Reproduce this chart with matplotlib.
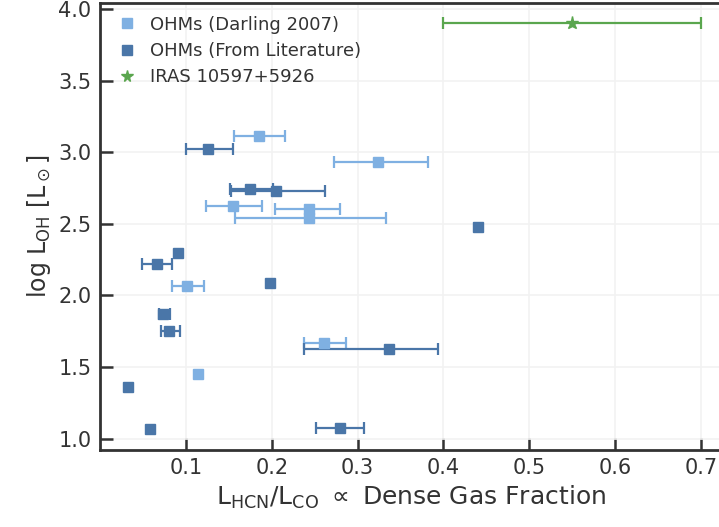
import matplotlib
matplotlib.use('Agg')
from matplotlib import pyplot as plt

# OHMs (Darling 2007)
darling_x = [0.185, 0.324, 0.155, 0.243, 0.244, 0.101, 0.261, 0.114]
darling_xlo = [0.156, 0.272, 0.123, 0.204, 0.157, 0.084, 0.238, 0.114]
darling_xhi = [0.216, 0.382, 0.189, 0.280, 0.333, 0.121, 0.287, 0.114]
darling_y = [3.114, 2.932, 2.625, 2.604, 2.542, 2.067, 1.669, 1.453]

# OHMs (From Literature)
lit_x = [0.126, 0.175, 0.205, 0.091, 0.066, 0.198, 0.440, 0.073, 0.080, 0.336, 0.033, 0.058, 0.279]
lit_xlo = [0.100, 0.151, 0.153, 0.091, 0.049, 0.198, 0.440, 0.069, 0.071, 0.238, 0.033, 0.058, 0.251]
lit_xhi = [0.155, 0.201, 0.262, 0.091, 0.084, 0.198, 0.440, 0.082, 0.093, 0.394, 0.033, 0.058, 0.308]
lit_y = [3.023, 2.744, 2.730, 2.297, 2.220, 2.088, 2.479, 1.872, 1.753, 1.627, 1.362, 1.069, 1.076]

# IRAS 10597+5926
iras_x = [0.55]
iras_xlo = [0.40]
iras_xhi = [0.70]
iras_y = [3.90]

light = '#7fb0e2'
dark = '#4a76a8'
green = '#5aa64e'
ink = '#333333'

plt.rcParams['font.family'] = 'DejaVu Sans'
plt.rcParams['text.color'] = ink
plt.rcParams['axes.labelcolor'] = ink
plt.rcParams['xtick.color'] = ink
plt.rcParams['ytick.color'] = ink

fig = plt.figure(figsize=(7.19, 5.27), dpi=100)
ax = fig.add_axes([0.139, 0.146, 0.866, 0.848])


def draw(x, lo, hi, y, color, label, marker='s', ms=7.5):
    # points with an x range get error bars, the rest are plain markers
    ex, ey, elo, ehi, px, py = [], [], [], [], [], []
    for v, l, h, w in zip(x, lo, hi, y):
        if h > l:
            ex.append(v); ey.append(w); elo.append(v - l); ehi.append(h - v)
        else:
            px.append(v); py.append(w)
    ax.errorbar(ex, ey, xerr=[elo, ehi], fmt=marker, color=color, markersize=ms,
                elinewidth=1.6, capsize=4, capthick=1.6, zorder=3)
    ax.plot(px, py, marker, color=color, markersize=ms, zorder=3)
    ax.plot([], [], marker, color=color, markersize=ms * 0.9, label=label)


draw(darling_x, darling_xlo, darling_xhi, darling_y, light, 'OHMs (Darling 2007)')
draw(lit_x, lit_xlo, lit_xhi, lit_y, dark, 'OHMs (From Literature)')
draw(iras_x, iras_xlo, iras_xhi, iras_y, green, 'IRAS 10597+5926', marker='*', ms=9.5)

ax.set_xlim(0.0, 0.725)
ax.set_ylim(0.92, 4.04)
ax.set_xticks([0.1, 0.2, 0.3, 0.4, 0.5, 0.6, 0.7])
ax.set_yticks([1.0, 1.5, 2.0, 2.5, 3.0, 3.5, 4.0])
ax.grid(True, color='#f2f2f2', linewidth=1.2, zorder=0)
ax.tick_params(direction='in', length=9, width=1.8, labelsize=15, pad=6)
for s in ax.spines.values():
    s.set_linewidth(2)
    s.set_color(ink)

ax.set_xlabel(r'L$_{\mathrm{HCN}}$/L$_{\mathrm{CO}}$ $\propto$ Dense Gas Fraction', fontsize=18)
ax.set_ylabel(r'log L$_{\mathrm{OH}}$ [L$_\odot$]', fontsize=17)

ax.legend(loc='upper left', frameon=False, fontsize=13,
          handletextpad=0.5, borderaxespad=0.3, labelspacing=0.45, handlelength=1.6)

fig.savefig('out.png', dpi=100)
